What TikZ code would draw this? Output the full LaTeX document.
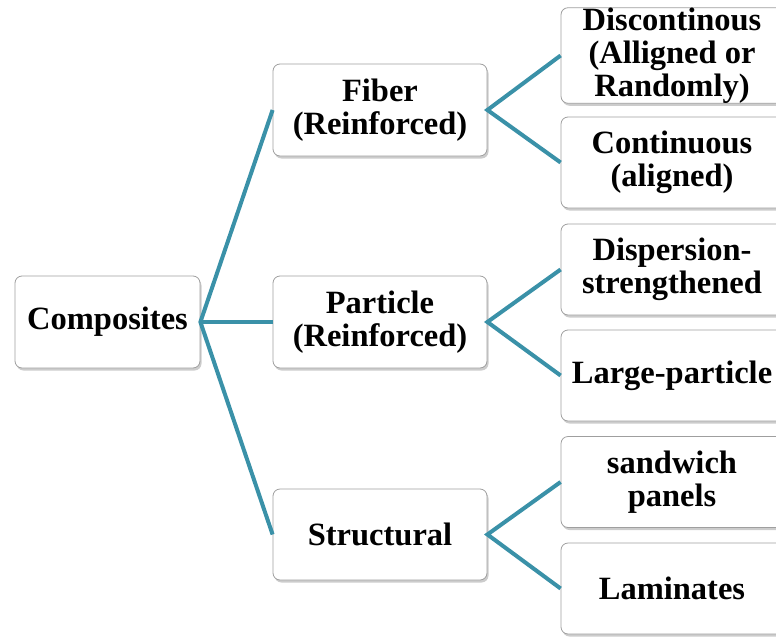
\documentclass[tikz,border=0pt]{standalone}
\usepackage{fontspec}
\setmainfont{Liberation Serif}
\usetikzlibrary{shadows}
\definecolor{linkteal}{RGB}{58,145,168}

\begin{document}
\begin{tikzpicture}[x=1pt,y=-1pt,
  box/.style={draw=gray!75, line width=0.8pt, fill=white, rounded corners=7pt,
    drop shadow={opacity=0.4, shadow xshift=1.5pt, shadow yshift=-2.5pt},
    inner sep=0pt, align=center, font=\fontsize{32.5}{33}\selectfont\bfseries},
  midbox/.style={box, minimum width=214pt, minimum height=92pt},
  leafbox/.style={box, minimum width=222pt, minimum height=91pt},
  link/.style={draw=linkteal, line width=4pt}]

  \useasboundingbox (0,0) rectangle (776,637);

  \node[box, minimum width=185pt, minimum height=92pt] (comp) at (107.5,322) {Composites};

  \node[midbox] (fiber) at (380,110) {Fiber\\(Reinforced)};
  \node[midbox] (particle) at (380,322) {Particle\\(Reinforced)};
  \node[midbox, minimum height=91pt] (struct) at (380,534.5) {Structural};

  \node[leafbox] (discont) at (672,55.5) {Discontinous\\(Alligned or\\Randomly)};
  \node[leafbox] (cont) at (672,162.5) {Continuous\\(aligned)};
  \node[leafbox] (disp) at (672,269.5) {Dispersion-\\strengthened};
  \node[leafbox] (large) at (672,375.5) {Large-particle};
  \node[leafbox] (sandwich) at (672,482) {sandwich\\panels};
  \node[leafbox] (lamin) at (672,588.5) {Laminates};

  \draw[link] (fiber.west) -- (comp.east) -- (struct.west);
  \draw[link] (comp.east) -- (particle.west);

  \draw[link] (discont.west) -- (fiber.east) -- (cont.west);
  \draw[link] (disp.west) -- (particle.east) -- (large.west);
  \draw[link] (sandwich.west) -- (struct.east) -- (lamin.west);

\end{tikzpicture}
\end{document}
